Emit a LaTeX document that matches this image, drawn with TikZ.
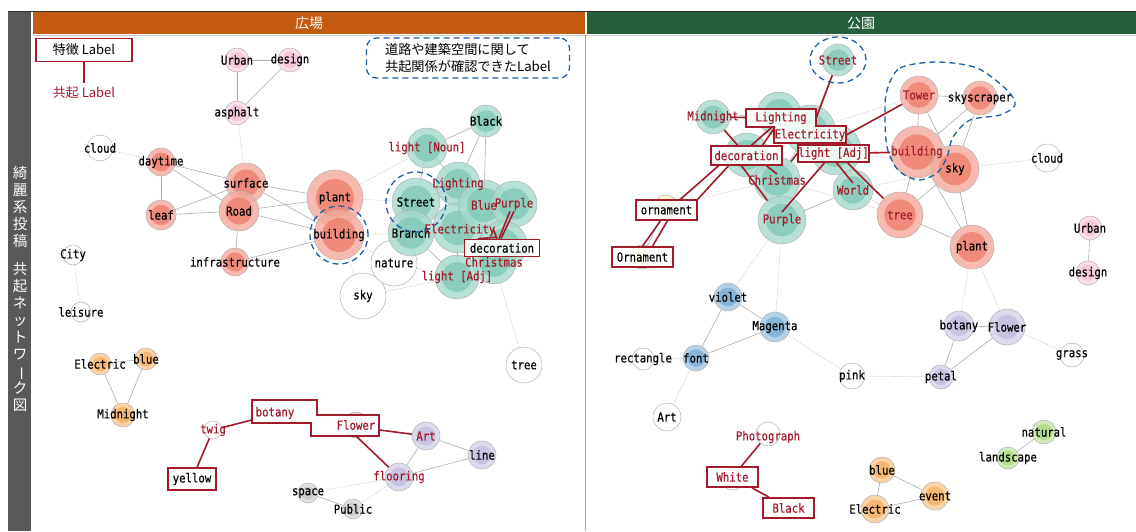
\documentclass[tikz,border=0pt]{standalone}
\usepackage{fontspec}
\usepackage{tikz}
\usetikzlibrary{calc, shapes}
\newfontfamily\cjk{Noto Sans CJK JP}
\newfontfamily\lblfont{DejaVu Sans Mono}[FakeStretch=0.86, FakeBold=0.4]
\newcommand{\lbf}{\lblfont\fontsize{12.4}{13}\selectfont}

\definecolor{hdrL}{HTML}{C55A11}
\definecolor{hdrR}{HTML}{255E3B}
\definecolor{barG}{HTML}{595959}
\definecolor{crim}{HTML}{A31B2A}
\definecolor{dashB}{HTML}{1F5FA3}
\definecolor{tealO}{HTML}{A5DACD}\definecolor{tealI}{HTML}{80CAB7}
\definecolor{salO}{HTML}{F4A99C}\definecolor{salI}{HTML}{EE7F70}
\definecolor{pnkO}{HTML}{F8D7E6}\definecolor{pnkI}{HTML}{F3C3D8}
\definecolor{orgO}{HTML}{F9C891}\definecolor{orgI}{HTML}{F6B066}
\definecolor{lavO}{HTML}{D3D1E8}\definecolor{lavI}{HTML}{C2BFDF}
\definecolor{bluO}{HTML}{A3C6E2}\definecolor{bluI}{HTML}{7BAED6}
\definecolor{yelO}{HTML}{FAF5B8}\definecolor{yelI}{HTML}{F3EE9A}
\definecolor{grnO}{HTML}{C8E7A5}\definecolor{grnI}{HTML}{ADDA80}
\definecolor{gryO}{HTML}{DADADA}\definecolor{gryI}{HTML}{C8C8C8}

\pgfdeclarelayer{bg}
\pgfdeclarelayer{fg}
\pgfsetlayers{bg,main,fg}

\begin{document}
\begin{tikzpicture}[x=1pt, y=-1pt,
  bub/.style={circle, draw=gray!60, line width=0.5pt, inner sep=0pt, fill opacity=0.8},
  ring/.style={path picture={\fill[#1] let \p1=(path picture bounding box.north), \p2=(path picture bounding box.center) in (\p2) circle ({0.68*(\y1-\y2)});}},
  tl/.style={bub, fill=tealO, ring=tealI},
  sl/.style={bub, fill=salO, ring=salI},
  pk/.style={bub, fill=pnkO, ring=pnkI},
  or/.style={bub, fill=orgO, ring=orgI},
  lv/.style={bub, fill=lavO, ring=lavI},
  bl/.style={bub, fill=bluO, ring=bluI},
  yl/.style={bub, fill=yelO, ring=yelI},
  gn/.style={bub, fill=grnO, ring=grnI},
  gy/.style={bub, fill=gryO, ring=gryI},
  wt/.style={bub, fill=white},
  bk/.style={font=\lbf, inner sep=1pt, text=black},
  rd/.style={bk, text=crim},
  ln/.style={draw=gray!65, line width=0.6pt},
  dt/.style={draw=gray!55, densely dotted, line width=0.6pt},
  redln/.style={draw=crim, line width=1.6pt},
  rbox/.style={draw=crim, line width=1.6pt, fill=white, fill opacity=0.85, text opacity=1, inner sep=0pt, font=\lbf},
  hbox/.style={inner sep=0pt, font=\lbf},
  dsh/.style={draw=dashB, line width=1.3pt, dash pattern=on 6pt off 4pt},
  hdr/.style={font=\cjk\fontsize{14}{16}\selectfont, text=white},
  vtxt/.style={font=\cjk\fontsize{14.5}{17}\selectfont, text=white, align=center, inner sep=0pt}]

\useasboundingbox (0,0) rectangle (1136,531);

% frame and headers
\fill[barG] (8,11) rectangle (31,531);
\fill[hdrL] (33,12) rectangle (585,34);
\fill[hdrR] (587,12) rectangle (1136,34);
\draw[black!80, line width=1pt] (8,11) -- (1136,11);
\draw[gray!40] (33,35) -- (1136,35);
\draw[gray!70] (585,35) -- (585,531);
\node[hdr] (hL) at (309,23) {広場};
\node[hdr] (hR) at (861,23) {公園};
\node[vtxt] (vt1) at (20,207) {綺\\麗\\系\\投\\稿};
\node[vtxt] (vt2) at (20,337) {共\\起\\ネ\\ッ\\ト\\ワ\\\rotatebox[origin=c]{-90}{ー}\\ク\\図};

% legend
\node[draw=crim, line width=1.4pt, minimum width=96pt, minimum height=23pt, font=\cjk\fontsize{13}{14}\selectfont] (Llegbox) at (84,50) {特徴 Label};
\node[font=\cjk\fontsize{13}{14}\selectfont, text=crim] (Llegco) at (84,93) {共起 Label};
\draw[redln] (Llegbox) -- (Llegco);
\node[dsh, rounded corners=10pt, minimum width=203pt, minimum height=40pt, align=left, inner sep=2pt, font=\cjk\fontsize{13.2}{17}\selectfont] (Llegnote) at (468,58) {道路や建築空間に関して\\共起関係が確認できたLabel};

% left panel: circles
\node[pk, minimum size=24pt] (LUrban) at (237,60) {};
\node[pk, minimum size=24pt] (Ldesign) at (290,60) {};
\node[pk, minimum size=24pt] (Lasphalt) at (237,113) {};
\node[wt, minimum size=26pt] (Lcloud) at (100,148) {};
\node[wt, minimum size=20pt] (LCity) at (73,255) {};
\node[wt, minimum size=20pt] (Lleisure) at (81,312) {};
\node[sl, minimum size=28pt] (Ldaytime) at (161,162) {};
\node[sl, minimum size=30pt] (Lleaf) at (161,215) {};
\node[sl, minimum size=40pt] (Lsurface) at (246,183) {};
\node[sl, minimum size=40pt] (LRoad) at (239,211) {};
\node[sl, minimum size=28pt] (Linfra) at (235,262) {};
\node[sl, minimum size=56pt] (Lplant) at (335,198) {};
\node[sl, minimum size=50pt] (Lbuilding) at (339,235) {};
\node[wt, minimum size=46pt] (Lsky) at (363,296) {};
\node[wt, minimum size=46pt] (Lnature) at (394,263) {};
\node[wt, minimum size=36pt] (Ltree) at (524,365) {};
\node[tl, minimum size=32pt] (LBlack) at (486,121) {};
\node[tl, minimum size=40pt] (LlightN) at (427,148) {};
\node[tl, minimum size=44pt] (LLighting) at (458,184) {};
\node[tl, minimum size=48pt] (LStreet) at (416,202) {};
\node[tl, minimum size=46pt] (LBranch) at (411,233) {};
\node[tl, minimum size=50pt] (LElec) at (458,228) {};
\node[tl, minimum size=50pt] (LBlue) at (484,205) {};
\node[tl, minimum size=46pt] (LPurple) at (514,204) {};
\node[tl, minimum size=48pt] (Ldeco) at (503,245) {};
\node[tl, minimum size=44pt] (LChristmas) at (494,262) {};
\node[tl, minimum size=44pt] (LlightA) at (457,277) {};
\node[or, minimum size=22pt] (LElectric) at (100,364) {};
\node[or, minimum size=22pt] (Lblue) at (146,359) {};
\node[or, minimum size=24pt] (LMidnight) at (123,415) {};
\node[wt, minimum size=20pt] (Lbotany) at (275,413) {};
\node[wt, minimum size=18pt] (Ltwig) at (213,430) {};
\node[wt, minimum size=20pt] (Lyellow) at (193,480) {};
\node[lv, minimum size=26pt] (LFlower) at (356,425) {};
\node[lv, minimum size=28pt] (LArt) at (426,436) {};
\node[lv, minimum size=28pt] (Lline) at (482,455) {};
\node[lv, minimum size=28pt] (Lflooring) at (399,477) {};
\node[gy, minimum size=20pt] (Lspace) at (308,493) {};
\node[gy, minimum size=20pt] (LPublic) at (353,509) {};

% right panel: circles
\node[tl, minimum size=32pt] (RStreet) at (838,60) {};
\node[tl, minimum size=34pt] (RMidnight) at (713,117) {};
\node[tl, minimum size=44pt] (RLighting) at (779,114) {};
\node[tl, minimum size=50pt] (RElec) at (810,130) {};
\node[tl, minimum size=50pt] (RlightA) at (836,150) {};
\node[tl, minimum size=44pt] (Rdeco) at (747,155) {};
\node[tl, minimum size=46pt] (RChristmas) at (777,180) {};
\node[tl, minimum size=40pt] (RWorld) at (853,190) {};
\node[tl, minimum size=48pt] (RPurple) at (782,220) {};
\node[yl, minimum size=24pt] (Rornament) at (666,207) {};
\node[yl, minimum size=24pt] (ROrnament) at (642,257) {};
\node[sl, minimum size=38pt] (RTower) at (919,95) {};
\node[sl, minimum size=34pt] (Rskyscraper) at (980,98) {};
\node[sl, minimum size=52pt] (Rbuilding) at (917,152) {};
\node[sl, minimum size=48pt] (Rsky) at (955,169) {};
\node[sl, minimum size=46pt] (Rtree) at (900,215) {};
\node[sl, minimum size=44pt] (Rplant) at (972,247) {};
\node[wt, minimum size=28pt] (Rcloud) at (1047,158) {};
\node[pk, minimum size=24pt] (RUrban) at (1090,228) {};
\node[pk, minimum size=24pt] (Rdesign) at (1088,273) {};
\node[bl, minimum size=28pt] (Rviolet) at (728,297) {};
\node[bl, minimum size=30pt] (RMagenta) at (775,327) {};
\node[bl, minimum size=26pt] (Rfont) at (696,358) {};
\node[wt, minimum size=22pt] (Rrect) at (643,359) {};
\node[wt, minimum size=28pt] (RArt) at (667,417) {};
\node[wt, minimum size=26pt] (Rpink) at (852,376) {};
\node[lv, minimum size=30pt] (Rbotany) at (959,326) {};
\node[lv, minimum size=36pt] (RFlower) at (1007,327) {};
\node[lv, minimum size=24pt] (Rpetal) at (941,377) {};
\node[wt, minimum size=24pt] (Rgrass) at (1072,355) {};
\node[gn, minimum size=24pt] (Rnatural) at (1044,432) {};
\node[gn, minimum size=22pt] (Rlandscape) at (1008,458) {};
\node[or, minimum size=26pt] (Rblue) at (882,470) {};
\node[or, minimum size=28pt] (Revent) at (935,496) {};
\node[or, minimum size=28pt] (RElectric) at (875,509) {};
\node[wt, minimum size=24pt] (RPhoto) at (768,434) {};
\node[wt, minimum size=22pt] (RWhite) at (733,479) {};
\node[wt, minimum size=22pt] (RBlack) at (787,508) {};

\begin{pgfonlayer}{bg}
  \path[ln] (LUrban) edge (Ldesign) (LUrban) edge (Lasphalt) (Ldesign) edge (Lasphalt)
    (Ldaytime) edge (Lleaf) (Ldaytime) edge (Lsurface) (Ldaytime) edge (LRoad)
    (Lleaf) edge (Lsurface) (Lleaf) edge (LRoad) (Lsurface.center) edge (LRoad.center)
    (LRoad) edge (Linfra) (Lsurface) edge (Lplant) (Lsurface) edge (Lbuilding)
    (LRoad) edge (Lplant) (LRoad) edge (Lbuilding) (Linfra) edge (Lbuilding)
    (Lplant.center) edge (Lbuilding.center)
    (LElectric) edge (Lblue) (LElectric) edge (LMidnight) (Lblue) edge (LMidnight)
    (LArt) edge (Lline) (LArt) edge (Lflooring) (Lline) edge (Lflooring) (Lspace) edge (LPublic)
    (LBlack) edge (LlightN) (LBlack) edge (LLighting) (LBlack.center) edge (LBlue.center)
    (LlightN.center) edge (LStreet.center) (LlightN.center) edge (LLighting.center)
    (LStreet.center) edge (LBranch.center) (LStreet.center) edge (LLighting.center)
    (LLighting.center) edge (LElec.center) (LLighting.center) edge (LPurple.center)
    (LBranch.center) edge (LElec.center) (LBranch.center) edge (LlightA.center)
    (LElec.center) edge (LlightA.center) (LElec.center) edge (LChristmas.center)
    (LBlue.center) edge (LPurple.center) (LBlue.center) edge (LChristmas.center);
  \path[dt] (Lasphalt) edge (Lsurface) (Lcloud) edge (Ldaytime) (LCity) edge (Lleisure)
    (Lplant) edge (LStreet) (Lplant) edge (LlightN) (Lbuilding) edge (LBranch)
    (Lbuilding) edge (Lnature) (Lbuilding) edge (Lsky) (Lnature) edge (LlightA)
    (Lsky) edge (LlightA) (LChristmas) edge (Ltree) (Lbotany) edge (LFlower)
    (Lflooring) edge (Lspace) (Lflooring) edge (LPublic);
  \path[ln] (RStreet) edge (RElec) (RMidnight) edge (RLighting)
    (RLighting.center) edge (RElec.center) (RLighting.center) edge (Rdeco.center)
    (RElec.center) edge (RlightA.center) (Rdeco.center) edge (RChristmas.center)
    (RChristmas.center) edge (RPurple.center) (RlightA) edge (RWorld) (RPurple) edge (RWorld)
    (RElec.center) edge (RChristmas.center) (Rornament) edge (ROrnament)
    (RTower) edge (Rskyscraper) (RTower) edge (Rbuilding) (RTower) edge (Rsky)
    (Rskyscraper) edge (Rbuilding) (Rskyscraper) edge (Rsky) (Rbuilding.center) edge (Rsky.center)
    (Rbuilding) edge (Rtree) (Rbuilding) edge (Rplant) (Rsky) edge (Rtree) (Rsky) edge (Rplant)
    (Rtree) edge (Rplant)
    (Rviolet) edge (RMagenta) (Rviolet) edge (Rfont) (RMagenta) edge (Rfont)
    (Rbotany) edge (RFlower) (Rbotany) edge (Rpetal) (RFlower) edge (Rpetal)
    (RUrban) edge (Rdesign) (Rnatural) edge (Rlandscape)
    (Rblue) edge (RElectric) (Rblue) edge (Revent) (RElectric) edge (Revent);
  \path[dt] (Rornament) edge (Rdeco) (Rornament) edge (RChristmas) (RPurple) edge (Rviolet)
    (RPurple) edge (RMagenta) (RlightA) edge (Rbuilding) (RWorld) edge (Rsky)
    (RWorld) edge (Rtree) (RElec) edge (RTower) (RlightA) edge (Rsky) (RChristmas) edge (Rtree)
    (Rsky) edge (Rcloud) (Rplant) edge (Rbotany) (Rplant) edge (RFlower)
    (Rfont) edge (Rrect) (Rfont) edge (RArt) (RMagenta) edge (Rpink) (Rpink) edge (Rpetal)
    (RFlower) edge (Rgrass);
\end{pgfonlayer}

\begin{pgfonlayer}{fg}
  % left labels
  \node[bk] (tLUrban) at (LUrban) {Urban};
  \node[bk] (tLdesign) at (Ldesign) {design};
  \node[bk] (tLasphalt) at (Lasphalt) {asphalt};
  \node[bk] (tLcloud) at (Lcloud) {cloud};
  \node[bk] (tLCity) at (LCity) {City};
  \node[bk] (tLleisure) at (Lleisure) {leisure};
  \node[bk] (tLdaytime) at (Ldaytime) {daytime};
  \node[bk] (tLleaf) at (Lleaf) {leaf};
  \node[bk] (tLsurface) at (Lsurface) {surface};
  \node[bk] (tLRoad) at (LRoad) {Road};
  \node[bk] (tLinfra) at (Linfra) {infrastructure};
  \node[bk] (tLplant) at (Lplant) {plant};
  \node[bk] (tLbuilding) at (Lbuilding) {building};
  \node[bk] (tLsky) at (Lsky) {sky};
  \node[bk] (tLnature) at (Lnature) {nature};
  \node[bk] (tLtree) at (Ltree) {tree};
  \node[bk] (tLBlack) at (LBlack) {Black};
  \node[rd] (tLlightN) at (LlightN) {light [Noun]};
  \node[rd] (tLLighting) at (LLighting) {Lighting};
  \node[bk] (tLStreet) at (LStreet) {Street};
  \node[bk] (tLBranch) at (LBranch) {Branch};
  \node[rd] (tLElec) at (460,230) {Electricity};
  \node[rd] (tLBlue) at (LBlue) {Blue};
  \node[rd] (tLPurple) at (LPurple) {Purple};
  \node[rd] (tLChristmas) at (LChristmas) {Christmas};
  \node[rd] (tLlightA) at (LlightA) {light [Adj]};
  \node[bk] (tLElectric) at (LElectric) {Electric};
  \node[bk] (tLblue) at (Lblue) {blue};
  \node[bk] (tLMidnight) at (LMidnight) {Midnight};
  \node[rd] (tLtwig) at (Ltwig) {twig};
  \node[rd] (tLArt) at (LArt) {Art};
  \node[bk] (tLline) at (Lline) {line};
  \node[rd] (tLflooring) at (Lflooring) {flooring};
  \node[bk] (tLspace) at (Lspace) {space};
  \node[bk] (tLPublic) at (LPublic) {Public};

  % left red boxes
  \node[rbox, minimum width=75pt, minimum height=17pt] (Ldecobox) at (502,248) {decoration};
  \node[rbox, minimum width=48pt, minimum height=22pt] (Lyellowbox) at (192,479) {yellow};
  \draw[rbox] (252,400) -- (317,400) -- (317,415) -- (379,415) -- (379,436)
    -- (311,436) -- (311,423) -- (252,423) -- cycle;
  \node[hbox, minimum width=65pt, minimum height=23pt] (Lbotbox) at (284.5,411.5) {};
  \node[hbox, minimum width=68pt, minimum height=21pt] (Lflowbox) at (345,425.5) {};
  \node[rd] (tLbotany) at (Lbotany) {botany};
  \node[rd] (tLFlower) at (LFlower) {Flower};
  \draw[redln] (LBlue) -- ([xshift=-5pt]Ldecobox.north);
  \draw[redln] (tLPurple.south) -- ([xshift=-1pt]Ldecobox.north);
  \draw[redln] ([xshift=-4pt]tLPurple.south) -- ([xshift=-3pt]Ldecobox.north);
  \draw[redln] (tLElec.south east) -- ([xshift=-24pt]Ldecobox.north);
  \draw[redln] (Ltwig) -- (Lbotbox);
  \draw[redln] (Ltwig) -- (Lyellowbox);
  \draw[redln] (Lflowbox) -- (LArt);
  \draw[redln] (Lflowbox) -- (Lflooring);

  % left dashed outlines
  \draw[dsh] (LStreet) circle[radius=30pt];
  \draw[dsh] (Lbuilding) circle[radius=29pt];

  % right labels
  \node[rd] (tRStreet) at (RStreet) {Street};
  \node[rd] (tRMidnight) at (RMidnight) {Midnight};
  \node[rd] (tRChristmas) at (RChristmas) {Christmas};
  \node[rd] (tRWorld) at (RWorld) {World};
  \node[rd] (tRPurple) at (RPurple) {Purple};
  \node[rd] (tRTower) at (RTower) {Tower};
  \node[bk] (tRskyscraper) at (Rskyscraper) {skyscraper};
  \node[rd] (tRbuilding) at (Rbuilding) {building};
  \node[bk] (tRsky) at (Rsky) {sky};
  \node[rd] (tRtree) at (Rtree) {tree};
  \node[bk] (tRplant) at (Rplant) {plant};
  \node[bk] (tRcloud) at (Rcloud) {cloud};
  \node[bk] (tRUrban) at (RUrban) {Urban};
  \node[bk] (tRdesign) at (Rdesign) {design};
  \node[bk] (tRviolet) at (Rviolet) {violet};
  \node[bk] (tRMagenta) at (RMagenta) {Magenta};
  \node[bk] (tRfont) at (Rfont) {font};
  \node[bk] (tRrect) at (Rrect) {rectangle};
  \node[bk] (tRArt) at (RArt) {Art};
  \node[bk] (tRpink) at (Rpink) {pink};
  \node[bk] (tRbotany) at (Rbotany) {botany};
  \node[bk] (tRFlower) at (RFlower) {Flower};
  \node[bk] (tRpetal) at (Rpetal) {petal};
  \node[bk] (tRgrass) at (Rgrass) {grass};
  \node[bk] (tRnatural) at (Rnatural) {natural};
  \node[bk] (tRlandscape) at (Rlandscape) {landscape};
  \node[bk] (tRblue) at (Rblue) {blue};
  \node[bk] (tRevent) at (Revent) {event};
  \node[bk] (tRElectric) at (RElectric) {Electric};
  \node[rd] (tRPhoto) at (768,437) {Photograph};

  % right red boxes
  \draw[rbox] (746,109) -- (816,109) -- (816,126) -- (846,126) -- (846,143)
    -- (774,143) -- (774,127) -- (746,127) -- cycle;
  \node[hbox, text=crim, minimum width=70pt, minimum height=18pt] (RLigbox) at (781,118) {Lighting};
  \node[hbox, text=crim, minimum width=72pt, minimum height=17pt] (RElecbox) at (810,135) {Electricity};
  \node[rbox, text=crim, minimum width=71pt, minimum height=17pt] (RlightAbox) at (833.5,153.5) {light [Adj]};
  \node[rbox, text=crim, minimum width=71pt, minimum height=19pt] (Rdecobox) at (746.5,155.5) {decoration};
  \node[rbox, minimum width=61pt, minimum height=20pt] (Rornbox) at (666.5,210) {ornament};
  \node[rbox, minimum width=61pt, minimum height=20pt] (ROrnbox) at (642.5,257) {Ornament};
  \node[rbox, text=crim, minimum width=51pt, minimum height=20pt] (RWhitebox) at (732.5,477) {White};
  \node[rbox, text=crim, minimum width=51pt, minimum height=20pt] (RBlackbox) at (788.5,508) {Black};

  \draw[redln] (RStreet) -- (RLigbox.east);
  \draw[redln] (RMidnight) -- (RLigbox);
  \draw[redln] (RMidnight) -- (Rdecobox);
  \draw[redln] ([xshift=-9pt]RLigbox.south) -- ([xshift=5pt]Rdecobox.north);
  \draw[redln] ([xshift=-6pt]RLigbox.south) -- ([xshift=16pt]Rdecobox.north);
  \draw[redln] ([xshift=20pt]Rdecobox.south) -- ([yshift=6pt]RChristmas.center);
  \draw[redln] ([xshift=-5pt]Rdecobox.south) -- (RPurple);
  \draw[redln] (RlightAbox.west) -- (RChristmas);
  \draw[redln] ([xshift=-9pt]RlightAbox.south) -- ([yshift=8pt]RPurple.center);
  \draw[redln] ([xshift=3pt]RlightAbox.south) -- ([yshift=7pt]RWorld.center);
  \draw[redln] ([xshift=14pt]RlightAbox.south) -- (Rtree);
  \draw[redln] (RlightAbox) -- (tRbuilding);
  \draw[redln] (RElecbox.east) -- (RTower);
  \draw[redln] ([xshift=-28pt]Rdecobox.south) -- ([xshift=14pt]Rornbox.north);
  \draw[redln] ([xshift=-18pt]Rdecobox.south) -- (Rornbox.north east);
  \draw[redln] ([xshift=-6pt]Rornbox.south) -- (ROrnbox.north);
  \draw[redln] ([xshift=1pt]Rornbox.south) -- ([xshift=10pt]ROrnbox.north);
  \draw[redln] (RPhoto) -- (RWhitebox);
  \draw[redln] (RWhitebox) -- (RBlackbox);

  % right dashed outlines
  \draw[dsh] (RStreet) ellipse[x radius=28pt, y radius=23pt];
  \draw[dsh] plot[smooth cycle] coordinates {(887,90) (900,68) (937,62) (977,68) (1007,90)
    (1015,105) (1000,115) (970,120) (953,137) (947,157) (937,173) (918,180) (898,170)
    (887,147) (885,113)};
\end{pgfonlayer}
\end{tikzpicture}
\end{document}
